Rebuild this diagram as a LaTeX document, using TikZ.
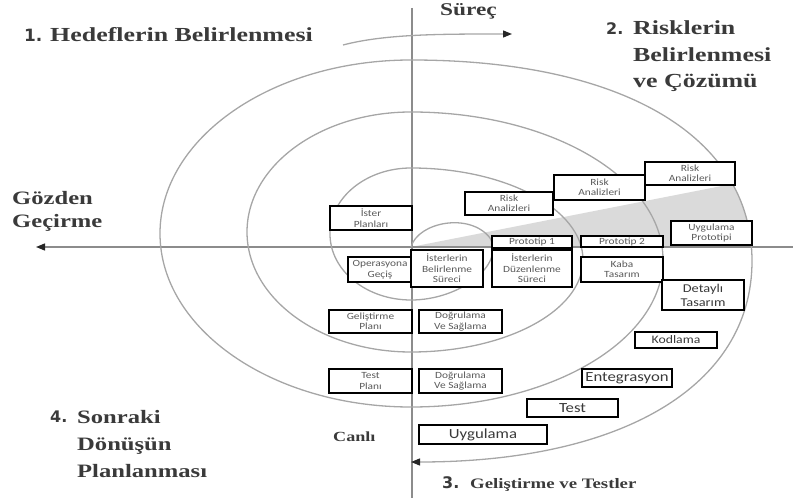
\documentclass[tikz,border=0pt]{standalone}
\usepackage{fontspec}
\setmainfont{Liberation Serif}
\newfontfamily\lblfont{Liberation Serif}[FakeStretch=1.3]
\newfontfamily\numfont{DejaVu Sans}
\newfontfamily\boxfont{Carlito}[FakeStretch=1.2]
\usetikzlibrary{arrows.meta}
\definecolor{spir}{HTML}{A6A6A6}
\definecolor{axisc}{HTML}{8C8C8C}
\definecolor{wedge}{HTML}{DADADA}
\definecolor{lblc}{HTML}{3A3A3A}
\definecolor{btxt}{HTML}{5A5A5A}
\begin{document}
\begin{tikzpicture}[x=1bp,y=-1bp,
  cbox/.style={draw=black, line width=2.2bp, fill=white, inner sep=0pt, align=center,
    text=btxt, font=\boxfont\fontsize{9.5}{10.5}\selectfont},
  bigbox/.style={cbox, text=lblc, font=\boxfont\fontsize{14}{14}\selectfont},
  lbl/.style={anchor=base west, inner sep=0pt, text=lblc, font=\lblfont\bfseries\fontsize{19}{19}\selectfont},
  num/.style={anchor=base west, inner sep=0pt, text=lblc, font=\numfont\bfseries\fontsize{16}{16}\selectfont},
  spiral/.style={draw=spir, line width=1.3bp},
  axisline/.style={draw=axisc, line width=1.3bp},
  tip/.style={-{Triangle[length=9bp,width=7bp,color=black!85]}}
]
\useasboundingbox (0,0) rectangle (793,500);

% gray wedge
\begin{scope}
  \clip (411,60) .. controls (622,60) and (752,136) .. (752,261)
        .. controls (752,386) and (622,462) .. (411,462) -- cycle;
  \fill[wedge] (416,246) -- (793,172) -- (793,247) -- (416,247) -- cycle;
\end{scope}

% axes
\coordinate (hR) at (793,247);
\coordinate (hL) at (36,247);
\coordinate (vT) at (412,8);
\coordinate (vB) at (412,498);
\draw[axisline] (vT) -- (vB);
\draw[axisline, tip] (hR) -- (hL);

% spiral
\draw[spiral, tip] (411,247) .. controls (418,222) and (470,212) .. (490,238)
  .. controls (505,265) and (460,300) .. (411,300)
  arc[start angle=270, end angle=90, x radius=81bp, y radius=66bp]
  arc[start angle=90, end angle=-90, x radius=172bp, y radius=92bp]
  arc[start angle=270, end angle=90, x radius=164bp, y radius=120bp]
  arc[start angle=90, end angle=-90, x radius=252bp, y radius=147.5bp]
  arc[start angle=270, end angle=90, x radius=251bp, y radius=173.5bp]
  .. controls (622,60) and (752,136) .. (752,261)
  .. controls (752,386) and (622,462) .. (411,462);

% Surec arrow
\coordinate (sA) at (343,45);
\coordinate (sB) at (512,34);
\draw[spiral, tip] (sA) .. controls (385,34) and (440,34) .. (sB);

% boxes
\node[cbox, minimum width=82, minimum height=24] (isterplan) at (371,218) {İster\\Planları};
\node[cbox, minimum width=88, minimum height=23] (risk1) at (509,203.5) {Risk\\Analizleri};
\node[cbox, minimum width=91, minimum height=25] (risk2) at (599.5,187.5) {Risk\\Analizleri};
\node[cbox, minimum width=90, minimum height=23] (risk3) at (690,173.5) {Risk\\Analizleri};
\node[cbox, minimum width=80, minimum height=12] (proto1) at (532,242) {Prototip 1};
\node[cbox, minimum width=82, minimum height=11] (proto2) at (622,241.5) {Prototip 2};
\node[cbox, minimum width=81, minimum height=24] (uygproto) at (711.5,233) {Uygulama\\Prototipi};
\node[cbox, minimum width=64, minimum height=25] (opgecis) at (380,269.5) {Operasyona\\Geçiş};
\node[cbox, minimum width=72, minimum height=37] (istbel) at (447,268.5) {İsterlerin\\Belirlenme\\Süreci};
\node[cbox, minimum width=80, minimum height=37] (istduz) at (532,268.5) {İsterlerin\\Düzenlenme\\Süreci};
\node[cbox, minimum width=82, minimum height=25] (kaba) at (622,269.5) {Kaba\\Tasarım};
\node[cbox, minimum width=82, minimum height=30, text=lblc, font=\boxfont\fontsize{12}{14}\selectfont] (detay) at (703,295) {Detaylı\\Tasarım};
\node[cbox, minimum width=83, minimum height=23] (gelplan) at (370.5,321.5) {Geliştirme\\Planı};
\node[cbox, minimum width=83, minimum height=23] (dogr1) at (460.5,321.5) {Doğrulama\\Ve Sağlama};
\node[cbox, minimum width=82, minimum height=16, text=lblc, font=\boxfont\fontsize{11.5}{12}\selectfont] (kodlama) at (676,340) {Kodlama};
\node[cbox, minimum width=83, minimum height=24] (testplan) at (370.5,381) {Test\\Planı};
\node[cbox, minimum width=83, minimum height=24] (dogr2) at (460.5,381) {Doğrulama\\Ve Sağlama};
\node[bigbox, minimum width=90, minimum height=18] (entegr) at (627,378) {Entegrasyon};
\node[bigbox, minimum width=91, minimum height=18] (test) at (572.5,408) {Test};
\node[bigbox, minimum width=128, minimum height=19] (uyg) at (483,434.5) {Uygulama};

% labels
\node[num, font=\numfont\bfseries\fontsize{17}{17}\selectfont] (n1) at (24,42) {1.};
\node[lbl, font=\lblfont\bfseries\fontsize{20}{20}\selectfont] (l1) at (50,42) {Hedeflerin Belirlenmesi};
\node[lbl, font=\lblfont\bfseries\fontsize{18}{18}\selectfont] (surec) at (440,16) {Süreç};
\node[num] (n2) at (606,35) {2.};
\node[lbl, font=\lblfont\bfseries\fontsize{20}{20}\selectfont] (l2a) at (633,35) {Risklerin};
\node[lbl, font=\lblfont\bfseries\fontsize{20}{20}\selectfont] (l2b) at (633,62) {Belirlenmesi};
\node[lbl, font=\lblfont\bfseries\fontsize{20}{20}\selectfont] (l2c) at (633,88) {ve Çözümü};
\node[lbl] (gz1) at (12,205) {Gözden};
\node[lbl] (gz2) at (12,228) {Geçirme};
\node[num] (n4) at (50,422) {4.};
\node[lbl] (l4a) at (77,423) {Sonraki};
\node[lbl] (l4b) at (77,450) {Dönüşün};
\node[lbl] (l4c) at (77,477) {Planlanması};
\node[lbl, font=\lblfont\bfseries\fontsize{14}{14}\selectfont] (canli) at (333,441) {Canlı};
\node[num] (n3) at (442,488) {3.};
\node[lbl, font=\lblfont\bfseries\fontsize{14.5}{14.5}\selectfont] (l3) at (470,488) {Geliştirme ve Testler};
\end{tikzpicture}
\end{document}
